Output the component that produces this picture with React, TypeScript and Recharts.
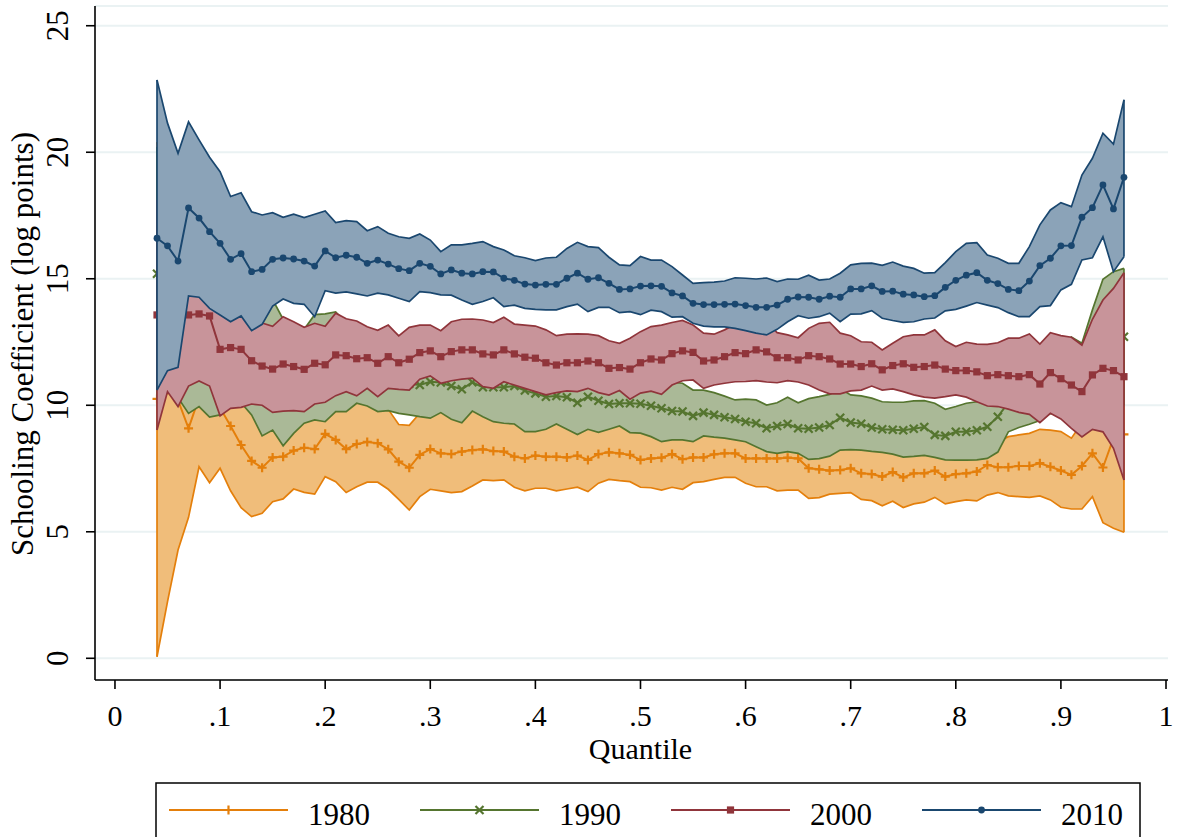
import React from "react";
import { ComposedChart, Area, Line, XAxis, YAxis, CartesianGrid } from "recharts";

const SERIF = '"Liberation Serif", "Times New Roman", Times, serif';
const WIDTH = 1182;
const HEIGHT = 837;

// quantiles 0.04 .. 0.96
const QUANTILES = Array.from({ length: 93 }, (_, i) => (4 + i) / 100);
const X_TICKS = [0, 0.1, 0.2, 0.3, 0.4, 0.5, 0.6, 0.7, 0.8, 0.9, 1];
const Y_TICKS = [0, 5, 10, 15, 20, 25];

// 1980
const Y1980 = [
  10.25, 10.6, 10.2, 9.09, 10.3, 10.0, 9.9, 9.18, 8.43, 7.8,
  7.53, 7.94, 7.97, 8.21, 8.32, 8.27, 8.87, 8.63, 8.27, 8.47,
  8.55, 8.5, 8.26, 7.77, 7.53, 8.04, 8.27, 8.1, 8.07, 8.17,
  8.23, 8.26, 8.19, 8.17, 7.97, 7.9, 8.01, 7.97, 7.97, 7.94,
  8.01, 7.84, 8.07, 8.14, 8.1, 8.04, 7.84, 7.9, 7.93, 8.07,
  7.87, 7.94, 7.94, 8.06, 8.1, 8.1, 7.9, 7.9, 7.9, 7.9,
  7.93, 7.9, 7.51, 7.47, 7.42, 7.44, 7.51, 7.31, 7.28, 7.18,
  7.36, 7.15, 7.31, 7.31, 7.42, 7.18, 7.28, 7.31, 7.38, 7.64,
  7.55, 7.55, 7.6, 7.6, 7.71, 7.57, 7.42, 7.25, 7.6, 8.1,
  7.54, 8.7, 8.85,
];
const LO1980 = [
  0.06, 2.24, 4.28, 5.57, 7.57, 6.94, 7.51, 6.62, 5.95, 5.6,
  5.73, 6.19, 6.3, 6.69, 6.56, 6.49, 7.18, 6.98, 6.55, 6.78,
  6.96, 6.96, 6.68, 6.28, 5.86, 6.39, 6.68, 6.62, 6.55, 6.59,
  6.81, 7.05, 7.02, 7.05, 6.76, 6.62, 6.72, 6.72, 6.62, 6.69,
  6.76, 6.59, 6.92, 7.07, 7.02, 6.98, 6.76, 6.74, 6.65, 6.76,
  6.68, 6.94, 6.98, 7.07, 7.15, 7.15, 6.92, 6.78, 6.78, 6.62,
  6.65, 6.65, 6.32, 6.35, 6.49, 6.52, 6.55, 6.28, 6.23, 6.03,
  6.21, 5.96, 6.1, 6.17, 6.36, 6.1, 6.19, 6.26, 6.22, 6.45,
  6.55, 6.42, 6.39, 6.36, 6.42, 6.26, 5.97, 5.9, 5.9, 6.39,
  5.36, 5.14, 4.98,
];
const HI1980 = [
  20.4, 18.9, 16.1, 12.6, 13.0, 13.1, 12.3, 11.74, 10.91, 10.0,
  9.33, 9.69, 9.64, 9.73, 10.08, 10.05, 10.56, 10.28, 9.99, 10.16,
  10.14, 10.04, 9.84, 9.24, 9.21, 9.69, 9.86, 9.75, 9.59, 9.75,
  9.8, 9.6, 9.4, 9.35, 9.3, 9.18, 9.3, 9.22, 9.32, 9.19,
  9.26, 9.09, 9.22, 9.21, 9.2, 9.1, 8.95, 9.06, 9.21, 9.38,
  9.06, 8.94, 8.9, 9.05, 9.05, 9.05, 8.88, 9.02, 9.02, 9.18,
  9.21, 9.15, 8.7, 8.59, 8.35, 8.36, 8.47, 8.34, 8.33, 8.33,
  8.51, 8.34, 8.52, 8.45, 8.48, 8.26, 8.37, 8.36, 8.54, 8.83,
  8.55, 8.76, 8.83, 8.89, 9.05, 9.02, 8.96, 8.7, 9.3, 9.8,
  9.7, 12.2, 12.7,
];

// 1990
const Y1990 = [
  15.2, 13.2, 12.2, 11.2, 11.3, 11.1, 11.2, 11.4, 11.6, 11.6,
  11.4, 11.6, 10.9, 11.05, 11.15, 11.5, 11.48, 11.72, 11.5, 11.6,
  11.5, 11.3, 11.2, 10.8, 10.85, 10.8, 10.93, 10.9, 10.76, 10.63,
  10.91, 10.71, 10.71, 10.71, 10.76, 10.58, 10.47, 10.34, 10.37, 10.32,
  10.1, 10.34, 10.18, 10.05, 10.08, 10.08, 10.06, 9.98, 9.88, 9.77,
  9.75, 9.58, 9.71, 9.62, 9.53, 9.46, 9.35, 9.29, 9.09, 9.18,
  9.26, 9.09, 9.07, 9.12, 9.22, 9.51, 9.32, 9.27, 9.12, 9.05,
  9.03, 9.01, 9.07, 9.14, 8.83, 8.79, 8.95, 8.95, 9.01, 9.15,
  9.55, 10.1, 10.25, 10.4, 10.6, 10.85, 10.95, 11.0, 10.7, 11.5,
  12.04, 12.3, 12.71,
];
const LO1990 = [
  10.2, 10.8, 10.3, 9.68, 9.95, 9.53, 9.62, 10.0, 10.1, 9.62,
  8.79, 9.02, 8.4, 8.89, 9.29, 9.42, 9.35, 9.75, 9.75, 10.08,
  9.97, 9.75, 9.79, 9.68, 9.62, 9.55, 9.49, 9.71, 9.45, 9.31,
  9.77, 9.55, 9.35, 9.29, 9.26, 8.96, 8.96, 9.05, 9.26, 9.05,
  8.84, 9.05, 8.93, 9.05, 9.18, 8.92, 8.9, 8.76, 8.56, 8.63,
  8.63, 8.56, 8.79, 8.74, 8.7, 8.63, 8.56, 8.36, 8.17, 8.1,
  8.17, 8.1, 7.86, 7.89, 7.99, 8.23, 8.25, 8.23, 8.18, 8.14,
  8.07, 7.95, 7.98, 8.02, 7.94, 7.84, 7.83, 7.83, 7.84, 7.9,
  8.15, 8.95, 9.12, 9.25, 9.4, 9.68, 9.6, 9.3, 9.0, 9.2,
  9.1, 9.3, 10.0,
];
const HI1990 = [
  20.2, 15.6, 14.1, 12.72, 12.65, 12.67, 12.78, 12.8, 13.1, 13.58,
  14.01, 14.18, 13.4, 13.2, 13.0, 13.58, 13.61, 13.69, 13.25, 13.12,
  13.03, 12.85, 12.61, 11.92, 12.08, 12.05, 12.37, 12.09, 12.07, 11.95,
  12.05, 11.87, 12.07, 12.13, 12.26, 12.2, 11.98, 11.63, 11.48, 11.59,
  11.36, 11.63, 11.43, 11.05, 10.98, 11.24, 11.22, 11.2, 11.2, 10.91,
  10.87, 10.6, 10.6, 10.5, 10.36, 10.21, 10.24, 10.21, 10.01, 10.1,
  10.32, 10.1, 10.26, 10.34, 10.43, 10.65, 10.41, 10.37, 10.28, 10.14,
  10.12, 10.12, 10.17, 10.18, 10.08, 9.84, 9.95, 10.08, 10.14, 10.4,
  10.95, 11.2, 11.4, 11.6, 11.8, 12.0, 12.3, 12.7, 12.45, 13.77,
  14.98, 15.28, 15.41,
];

// 2000
const Y2000 = [
  13.57, 13.6, 13.4, 13.57, 13.61, 13.53, 12.21, 12.28, 12.21, 11.76,
  11.55, 11.43, 11.63, 11.53, 11.42, 11.66, 11.6, 11.99, 11.96, 11.84,
  11.88, 11.66, 11.92, 11.68, 11.82, 12.08, 12.15, 11.92, 12.12, 12.19,
  12.19, 12.03, 11.99, 12.19, 12.03, 11.9, 11.86, 11.68, 11.59, 11.68,
  11.68, 11.75, 11.68, 11.46, 11.49, 11.43, 11.68, 11.83, 11.79, 12.04,
  12.15, 12.09, 11.75, 11.79, 11.92, 12.08, 12.04, 12.19, 12.11, 11.88,
  11.88, 11.79, 11.96, 11.92, 11.83, 11.63, 11.63, 11.53, 11.64, 11.4,
  11.57, 11.64, 11.5, 11.53, 11.59, 11.43, 11.37, 11.37, 11.32, 11.17,
  11.21, 11.17, 11.13, 11.21, 10.84, 11.29, 11.05, 10.8, 10.54, 11.2,
  11.46, 11.37, 11.13,
];
const LO2000 = [
  9.02, 10.54, 9.95, 10.76, 10.96, 10.76, 9.58, 9.88, 9.92, 10.05,
  10.0, 9.72, 9.77, 9.79, 9.75, 10.05, 10.12, 10.38, 10.54, 10.37,
  10.67, 10.34, 10.67, 10.63, 10.6, 11.03, 11.16, 10.87, 10.97, 11.03,
  11.07, 10.74, 10.67, 10.93, 10.8, 10.67, 10.54, 10.41, 10.5, 10.57,
  10.54, 10.67, 10.5, 10.4, 10.58, 10.24, 10.48, 10.56, 10.43, 10.8,
  10.97, 11.0, 10.67, 10.8, 10.87, 10.93, 10.94, 10.97, 10.92, 10.89,
  10.97, 10.92, 10.8, 10.6, 10.45, 10.45, 10.57, 10.6, 10.76, 10.6,
  10.65, 10.54, 10.41, 10.32, 10.28, 10.34, 10.41, 10.32, 10.14, 9.97,
  9.95, 9.85, 9.72, 9.64, 9.31, 9.68, 9.46, 9.09, 8.75, 9.05,
  8.95, 8.3, 7.05,
];
const HI2000 = [
  18.1, 16.7, 16.8, 16.4, 16.26, 16.3, 14.84, 14.68, 14.5, 13.47,
  13.25, 13.12, 13.5, 13.3, 13.08, 13.24, 13.12, 13.64, 13.42, 13.33,
  13.1, 12.96, 13.17, 12.74, 13.08, 13.17, 13.17, 12.95, 13.3, 13.4,
  13.41, 13.37, 13.27, 13.48, 13.21, 13.17, 13.13, 12.98, 12.75, 12.81,
  12.82, 12.81, 12.75, 12.55, 12.45, 12.65, 12.91, 13.11, 13.17, 13.27,
  13.35, 13.17, 12.85, 12.81, 12.98, 13.2, 13.1, 13.4, 13.3, 12.87,
  12.78, 12.67, 13.04, 13.24, 13.28, 12.85, 12.75, 12.51, 12.49, 12.19,
  12.45, 12.71, 12.78, 12.78, 12.98, 12.55, 12.32, 12.49, 12.42, 12.41,
  12.47, 12.65, 12.65, 12.82, 12.42, 12.87, 12.75, 12.69, 12.38, 13.4,
  14.16, 14.62, 15.24,
];

// 2010
const Y2010 = [
  16.6, 16.3, 15.7, 17.8, 17.4, 16.86, 16.4, 15.77, 15.99, 15.28,
  15.37, 15.77, 15.82, 15.78, 15.7, 15.5, 16.1, 15.83, 15.93, 15.85,
  15.61, 15.74, 15.58, 15.4, 15.32, 15.61, 15.49, 15.19, 15.35, 15.22,
  15.19, 15.28, 15.27, 15.02, 14.94, 14.79, 14.75, 14.78, 14.78, 15.02,
  15.22, 14.98, 15.04, 14.82, 14.58, 14.6, 14.71, 14.72, 14.7, 14.44,
  14.32, 14.03, 13.98, 13.98, 13.99, 14.0, 13.94, 13.87, 13.87, 13.96,
  14.19, 14.28, 14.27, 14.19, 14.31, 14.27, 14.6, 14.6, 14.72, 14.5,
  14.51, 14.39, 14.36, 14.29, 14.33, 14.66, 14.94, 15.14, 15.24, 14.94,
  14.81, 14.58, 14.53, 14.91, 15.52, 15.81, 16.3, 16.31, 17.43, 17.81,
  18.71, 17.76, 19.01,
];
const LO2010 = [
  10.6, 11.37, 11.5, 14.32, 14.27, 13.83, 13.57, 13.3, 13.53, 12.95,
  13.2, 13.92, 14.2, 14.03, 13.99, 13.5, 14.53, 14.43, 14.48, 14.4,
  14.32, 14.43, 14.36, 14.23, 14.1, 14.49, 14.45, 14.36, 14.35, 14.16,
  13.99, 14.1, 14.25, 13.9, 13.96, 13.83, 13.79, 13.77, 13.77, 13.9,
  14.0, 13.7, 13.87, 13.87, 13.66, 13.7, 13.58, 13.76, 13.7, 13.48,
  13.5, 13.24, 13.13, 13.1, 13.1, 13.04, 12.95, 12.85, 12.78, 13.0,
  13.3, 13.54, 13.44, 13.5, 13.64, 13.3, 13.6, 13.61, 13.74, 13.44,
  13.35, 13.28, 13.3, 13.41, 13.45, 13.73, 13.79, 13.92, 14.06, 13.96,
  13.86, 13.66, 13.5, 13.5, 13.9, 13.94, 14.56, 14.78, 15.74, 15.83,
  16.66, 15.28, 15.87,
];
const HI2010 = [
  22.86, 21.15, 19.96, 21.2, 20.49, 19.8, 19.23, 18.25, 18.4, 17.65,
  17.52, 17.61, 17.43, 17.55, 17.42, 17.55, 17.68, 17.22, 17.3, 17.26,
  16.9, 17.06, 16.8, 16.66, 16.6, 16.77, 16.53, 16.07, 16.34, 16.34,
  16.4, 16.47, 16.27, 16.14, 15.91, 15.83, 15.72, 15.82, 15.85, 16.2,
  16.44, 16.27, 16.23, 15.85, 15.55, 15.52, 15.88, 15.74, 15.74, 15.48,
  15.15, 14.82, 14.85, 14.87, 14.91, 15.04, 15.02, 14.99, 15.03, 14.89,
  14.99, 14.98, 15.14, 14.95, 14.99, 15.22, 15.55, 15.61, 15.62, 15.53,
  15.66, 15.5, 15.41, 15.22, 15.24, 15.64, 16.07, 16.4, 16.43, 15.94,
  15.81, 15.61, 15.61, 16.27, 17.13, 17.72, 18.01, 17.85, 19.1, 19.76,
  20.75, 20.32, 22.07,
];

type MarkerKind = "plus" | "cross" | "square" | "circle";

type Series = {
  key: string;
  line: string;
  band: string;
  marker: MarkerKind;
  mid: number[];
  lo: number[];
  hi: number[];
};

const SERIES: Series[] = [
  { key: "1980", line: "#e47f0b", band: "#f0bd7a", marker: "plus", mid: Y1980, lo: LO1980, hi: HI1980 },
  { key: "1990", line: "#55752f", band: "#aab997", marker: "cross", mid: Y1990, lo: LO1990, hi: HI1990 },
  { key: "2000", line: "#90353b", band: "#c8949a", marker: "square", mid: Y2000, lo: LO2000, hi: HI2000 },
  { key: "2010", line: "#1a476f", band: "#8ba3b8", marker: "circle", mid: Y2010, lo: LO2010, hi: HI2010 },
];

// plot box in pixels; domains are padded so 0..1 and 0..25 sit inside the axes like Stata draws them
const PLOT = { left: 95, right: 1168, top: 6, bottom: 680 };
const X_DOMAIN: [number, number] = [-0.019, 1.0019];
const Y_DOMAIN: [number, number] = [-0.858, 25.78];

const xPx = (v: number) =>
  PLOT.left + ((v - X_DOMAIN[0]) / (X_DOMAIN[1] - X_DOMAIN[0])) * (PLOT.right - PLOT.left);

const rows = QUANTILES.map((q, i) => {
  const row: Record<string, any> = { q };
  SERIES.forEach((s) => {
    row["y" + s.key] = s.mid[i];
    row["ci" + s.key] = [s.lo[i], s.hi[i]];
  });
  return row;
});

const fmtQuantile = (v: number) => (v === 0 ? "0" : v === 1 ? "1" : "." + Math.round(v * 10));

const Marker = ({ kind, cx, cy, color }: { kind: MarkerKind; cx?: number; cy?: number; color: string }) => {
  if (cx == null || cy == null || isNaN(cx) || isNaN(cy)) return null;
  if (kind === "plus")
    return (
      <path
        d={`M${cx - 4.5},${cy}H${cx + 4.5}M${cx},${cy - 4.5}V${cy + 4.5}`}
        stroke={color}
        strokeWidth={2.2}
        fill="none"
      />
    );
  if (kind === "cross")
    return (
      <path
        d={`M${cx - 4},${cy - 4}L${cx + 4},${cy + 4}M${cx - 4},${cy + 4}L${cx + 4},${cy - 4}`}
        stroke={color}
        strokeWidth={2.2}
        fill="none"
      />
    );
  if (kind === "square") return <rect x={cx - 3.6} y={cy - 3.6} width={7.2} height={7.2} fill={color} />;
  return <circle cx={cx} cy={cy} r={3.4} fill={color} />;
};

const XTick = (p: any) => (
  <text x={p.x} y={p.y + 35} textAnchor="middle" fontFamily={SERIF} fontSize={30} fill="#000">
    {fmtQuantile(p.payload.value)}
  </text>
);

const YTick = (p: any) => (
  <text
    transform={`translate(${p.x - 16},${p.y}) rotate(-90)`}
    textAnchor="middle"
    fontFamily={SERIF}
    fontSize={31}
    fill="#000"
  >
    {p.payload.value}
  </text>
);

const LegendBox = () => (
  <g>
    <rect x={156} y={783} width={984} height={80} fill="#fff" stroke="#000" strokeWidth={1.5} />
    {SERIES.map((s, k) => {
      const x0 = 169 + k * 251;
      return (
        <g key={s.key}>
          <line x1={x0} x2={x0 + 119} y1={810} y2={810} stroke={s.line} strokeWidth={2.2} />
          <Marker kind={s.marker} cx={x0 + 59.5} cy={810} color={s.line} />
          <text x={x0 + 139} y={825} fontFamily={SERIF} fontSize={31} fill="#000">
            {s.key}
          </text>
        </g>
      );
    })}
  </g>
);

const layerStyle: React.CSSProperties = { position: "absolute", left: 0, top: 0 };

// one year: band, its closing edges at both ends, then the estimate line with markers
const yearMarks = (s: Series) => {
  const first = 0;
  const last = QUANTILES.length - 1;
  const edge = (i: number) => [
    { q: QUANTILES[i], v: s.lo[i] },
    { q: QUANTILES[i], v: s.hi[i] },
  ];
  return [
    <Area
      key={"ci" + s.key}
      dataKey={"ci" + s.key}
      type="linear"
      fill={s.band}
      fillOpacity={1}
      stroke={s.line}
      strokeWidth={1.7}
      dot={false}
      activeDot={false}
      isAnimationActive={false}
    />,
    <Line
      key={"left" + s.key}
      data={edge(first)}
      dataKey="v"
      type="linear"
      stroke={s.line}
      strokeWidth={1.7}
      dot={false}
      activeDot={false}
      isAnimationActive={false}
    />,
    <Line
      key={"right" + s.key}
      data={edge(last)}
      dataKey="v"
      type="linear"
      stroke={s.line}
      strokeWidth={1.7}
      dot={false}
      activeDot={false}
      isAnimationActive={false}
    />,
    <Line
      key={"y" + s.key}
      dataKey={"y" + s.key}
      type="linear"
      stroke={s.line}
      strokeWidth={2}
      dot={(p: any) => <Marker key={p.index} kind={s.marker} cx={p.cx} cy={p.cy} color={s.line} />}
      activeDot={false}
      isAnimationActive={false}
    />,
  ];
};

export default function App() {
  const [base, ...upper] = SERIES;

  return (
    <div style={{ position: "absolute", left: 0, top: 0, width: WIDTH, height: HEIGHT, background: "#fff" }}>
      {/* base chart: grid, axes and the 1980 year */}
      <div style={layerStyle}>
        <ComposedChart
          width={WIDTH}
          height={HEIGHT}
          data={rows}
          margin={{ top: PLOT.top, right: WIDTH - PLOT.right, bottom: 77, left: 0 }}
        >
          <CartesianGrid horizontal vertical={false} stroke="#eaf2f3" strokeWidth={2} />
          <XAxis
            dataKey="q"
            type="number"
            domain={X_DOMAIN}
            ticks={X_TICKS}
            interval={0}
            allowDataOverflow
            height={80}
            tickSize={9}
            axisLine={{ stroke: "#000", strokeWidth: 1.6 }}
            tickLine={{ stroke: "#000", strokeWidth: 1.6 }}
            tick={XTick}
          />
          <YAxis
            type="number"
            domain={Y_DOMAIN}
            ticks={Y_TICKS}
            interval={0}
            allowDataOverflow
            width={PLOT.left}
            tickSize={9}
            axisLine={{ stroke: "#000", strokeWidth: 1.6 }}
            tickLine={{ stroke: "#000", strokeWidth: 1.6 }}
            tick={YTick}
          />
          {yearMarks(base)}
        </ComposedChart>
      </div>

      {/* later years stacked on top, each one covering the ones before it */}
      {upper.map((s) => (
        <div key={s.key} style={layerStyle}>
          <ComposedChart
            width={WIDTH}
            height={HEIGHT}
            data={rows}
            margin={{
              top: PLOT.top,
              right: WIDTH - PLOT.right,
              bottom: HEIGHT - PLOT.bottom,
              left: PLOT.left,
            }}
          >
            <XAxis dataKey="q" type="number" domain={X_DOMAIN} allowDataOverflow hide />
            <YAxis type="number" domain={Y_DOMAIN} allowDataOverflow hide />
            {yearMarks(s)}
          </ComposedChart>
        </div>
      ))}

      <svg width={WIDTH} height={HEIGHT} style={{ ...layerStyle, pointerEvents: "none" }}>
        <text
          transform={`translate(33,344) rotate(-90)`}
          textAnchor="middle"
          fontFamily={SERIF}
          fontSize={31}
          fill="#000"
        >
          Schooling Coefficient (log points)
        </text>
        <text x={xPx(0.5)} y={759} textAnchor="middle" fontFamily={SERIF} fontSize={30} fill="#000">
          Quantile
        </text>
        <LegendBox />
      </svg>
    </div>
  );
}
